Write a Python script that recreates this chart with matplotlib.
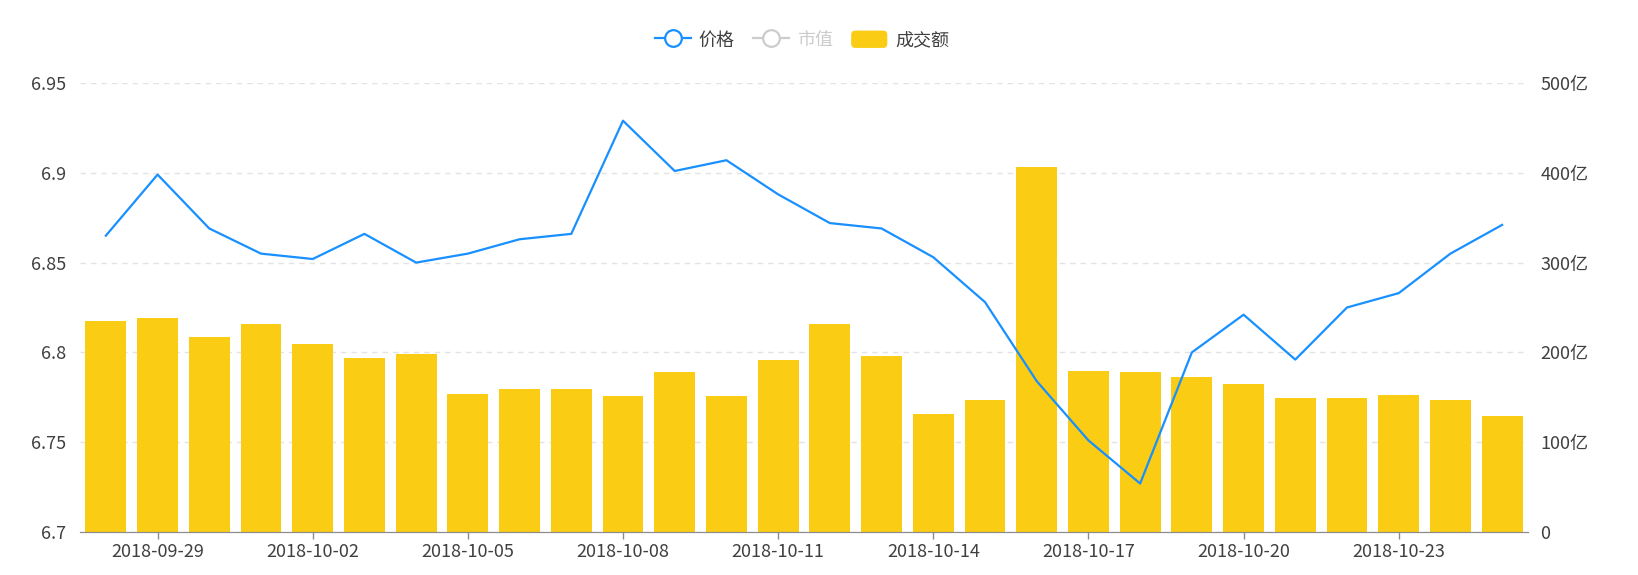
import matplotlib
matplotlib.use('Agg')
from matplotlib import pyplot as plt
from matplotlib.lines import Line2D
from matplotlib.patches import Patch, FancyBboxPatch
from matplotlib.legend_handler import HandlerPatch
from matplotlib.ticker import FuncFormatter

plt.rcParams['font.family'] = ['Noto Sans CJK SC', 'DejaVu Sans']

DATES = ['2018-09-28', '2018-09-29', '2018-09-30', '2018-10-01', '2018-10-02',
         '2018-10-03', '2018-10-04', '2018-10-05', '2018-10-06', '2018-10-07',
         '2018-10-08', '2018-10-09', '2018-10-10', '2018-10-11', '2018-10-12',
         '2018-10-13', '2018-10-14', '2018-10-15', '2018-10-16', '2018-10-17',
         '2018-10-18', '2018-10-19', '2018-10-20', '2018-10-21', '2018-10-22',
         '2018-10-23', '2018-10-24', '2018-10-25']
PRICE = [6.865, 6.899, 6.869, 6.855, 6.852, 6.866, 6.850, 6.855, 6.863, 6.866,
         6.929, 6.901, 6.907, 6.888, 6.872, 6.869, 6.853, 6.828, 6.784, 6.751,
         6.727, 6.800, 6.821, 6.796, 6.825, 6.833, 6.855, 6.871]
# 成交额, unit: 亿
VOLUME = [235, 238, 217, 232, 209, 194, 198, 154, 159, 159,
          151, 178, 151, 191, 232, 196, 131, 147, 407, 179,
          178, 173, 165, 149, 149, 153, 147, 129]
LEFT_TICKS = [6.7, 6.75, 6.8, 6.85, 6.9, 6.95]
RIGHT_TICKS = [0, 100, 200, 300, 400, 500]

BLUE = '#1890FF'
YELLOW = '#FACC14'
TEXT = '#404040'
FS = 13

fig = plt.figure(figsize=(16.38, 5.75), dpi=100)
ax = fig.add_axes([80 / 1638, 1 - 532 / 575, (1528 - 80) / 1638, (532 - 83) / 575])
axb = ax.twinx()
ax.set_zorder(axb.get_zorder() + 1)
ax.patch.set_visible(False)

x = list(range(len(DATES)))

# bars on right axis
axb.bar(x, VOLUME, width=0.79, color=YELLOW, zorder=2)
axb.set_ylim(0, 500)
axb.set_yticks(RIGHT_TICKS)
axb.yaxis.set_major_formatter(FuncFormatter(lambda v, p: '0' if v == 0 else '%d亿' % v))
axb.set_axisbelow(True)
axb.grid(axis='y', color='#E3E3E3', linestyle=(0, (4, 3.5)), linewidth=1)

# price line on left axis
ax.plot(x, PRICE, color=BLUE, linewidth=1.6, zorder=3)
ax.set_ylim(6.7, 6.95)
ax.set_yticks(LEFT_TICKS)
ax.set_yticklabels(['6.7', '6.75', '6.8', '6.85', '6.9', '6.95'])
ax.set_xlim(-0.5, len(DATES) - 0.5)
ax.set_xticks(x[1::3])
ax.set_xticklabels(DATES[1::3])

for a in (ax, axb):
    for s in ('top', 'left', 'right'):
        a.spines[s].set_visible(False)
    a.spines['bottom'].set_color('#8C8C8C')
    a.tick_params(axis='y', length=0, labelsize=FS, labelcolor=TEXT)
ax.tick_params(axis='y', pad=10)
axb.tick_params(axis='y', pad=9)
ax.tick_params(axis='x', length=5, width=1, color='#8C8C8C', labelsize=FS,
               labelcolor=TEXT, pad=3)
axb.tick_params(axis='x', length=0)


def rounded_patch(legend, orig_handle, xdescent, ydescent, width, height, fontsize):
    return FancyBboxPatch((-xdescent, -ydescent), width, height,
                          boxstyle='round,pad=0,rounding_size=3')


handles = [
    Line2D([], [], color=BLUE, linewidth=1.6, marker='o', markersize=12,
           markerfacecolor='white', markeredgewidth=1.6),
    Line2D([], [], color='#CCCCCC', linewidth=1.6, marker='o', markersize=12,
           markerfacecolor='white', markeredgewidth=1.6),
    Patch(facecolor=YELLOW, edgecolor='none'),
]
leg = fig.legend(handles, ['价格', '市值', '成交额'], loc='center',
                 bbox_to_anchor=(802 / 1638, 1 - 40 / 575), ncol=3, frameon=False,
                 fontsize=FS, handlelength=2.0, handleheight=1.1,
                 handletextpad=0.45, columnspacing=1.0,
                 handler_map={Patch: HandlerPatch(patch_func=rounded_patch)})
texts = leg.get_texts()
for t in texts:
    t.set_color(TEXT)
texts[1].set_color('#CCCCCC')

fig.savefig('out.png', dpi=100)
